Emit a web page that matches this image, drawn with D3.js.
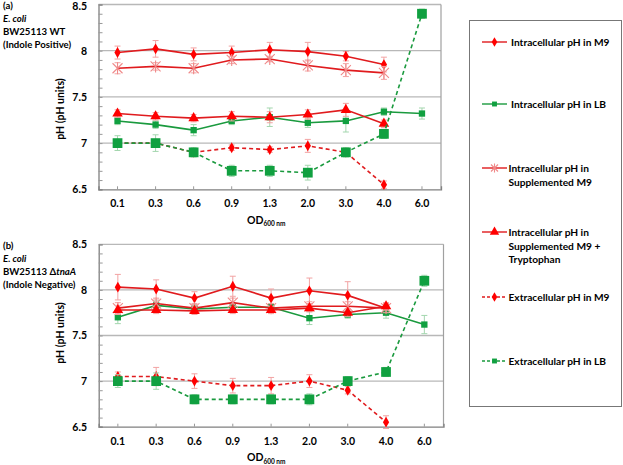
<!DOCTYPE html>
<html><head><meta charset="utf-8">
<script src="https://cdn.jsdelivr.net/npm/d3@7"></script>
<style>body{margin:0;background:#fff}svg{display:block}text{font-family:Lato,"Open Sans",sans-serif;font-weight:bold}</style>
</head><body>
<script>
const categories = ["0.1","0.3","0.6","0.9","1.3","2.0","3.0","4.0","6.0"];
const yTicks = [6.5,7,7.5,8,8.5];
const seriesNames = ["Intracellular pH in M9","Intracellular pH in LB","Intracellular pH in Supplemented M9","Intracellular pH in Supplemented M9 + Tryptophan","Extracellular pH in M9","Extracellular pH in LB"];
// Panel (a) WT
const aIntraM9   = [7.98,8.02,7.96,7.98,8.01,7.99,7.94,7.85];
const aIntraM9E  = [0.07,0.09,0.07,0.07,0.08,0.10,0.05,0.08];
const aIntraLB   = [7.24,7.20,7.14,7.24,7.28,7.22,7.24,7.34,7.32];
const aIntraLBE  = [0.04,0.04,0.06,0.04,0.10,0.05,0.12,0.04,0.06];
const aSuppM9    = [7.81,7.83,7.81,7.90,7.91,7.84,7.79,7.76];
const aSuppM9E   = [0.06,0.04,0.05,0.04,0.03,0.06,0.07,0.07];
const aSuppTrp   = [7.32,7.29,7.27,7.29,7.28,7.31,7.36,7.21];
const aSuppTrpE  = [0.04,0.04,0.04,0.05,0.06,0.05,0.07,0.04];
const aExtraM9   = [7.00,7.00,6.90,6.95,6.93,6.97,6.90,6.55];
const aExtraM9E  = [0.03,0.03,0.03,0.03,0.03,0.07,0.03,0.04];
const aExtraLB   = [7.00,7.00,6.90,6.70,6.70,6.68,6.90,7.10,8.40];
const aExtraLBE  = [0.08,0.09,0.05,0.06,0.06,0.08,0.05,0.05,0.05];
// Panel (b) tnaA
const bIntraM9   = [8.03,8.01,7.91,8.04,7.91,7.99,7.94,7.80];
const bIntraM9E  = [0.14,0.10,0.07,0.11,0.10,0.14,0.15,0.04];
const bIntraLB   = [7.70,7.83,7.79,7.81,7.81,7.69,7.73,7.75,7.62];
const bIntraLBE  = [0.07,0.05,0.04,0.04,0.04,0.07,0.04,0.06,0.10];
const bSuppM9    = [7.80,7.85,7.80,7.86,7.80,7.82,7.82,7.80];
const bSuppM9E   = [0.06,0.05,0.05,0.05,0.05,0.05,0.05,0.05];
const bSuppTrp   = [7.78,7.78,7.77,7.78,7.78,7.80,7.75,7.82];
const bSuppTrpE  = [0.05,0.04,0.04,0.04,0.04,0.04,0.04,0.04];
const bExtraM9   = [7.05,7.05,7.00,6.95,6.95,7.00,6.90,6.55];
const bExtraM9E  = [0.05,0.10,0.08,0.08,0.09,0.07,0.04,0.07];
const bExtraLB   = [7.00,7.00,6.80,6.80,6.80,6.80,7.00,7.10,8.10];
const bExtraLBE  = [0.07,0.09,0.05,0.05,0.05,0.06,0.05,0.05,0.06];

const RED="#e01b1e", REDM="#ff0000", REDE="#f2a3a3", GREEN="#1a9a3e", GREENM="#10a040", GREENE="#a3d6ae", PINK="#f08a8a";
const styles = [
  {line:RED, fill:REDM, err:REDE, dash:null, sym:"diamond", size:34},
  {line:GREEN, fill:GREENM, err:GREENE, dash:null, sym:"square", size:40},
  {line:RED, fill:PINK, err:REDE, dash:null, sym:"star", size:5},
  {line:RED, fill:REDM, err:REDE, dash:null, sym:"triangle", size:48},
  {line:RED, fill:REDM, err:REDE, dash:"4,3", sym:"diamond", size:34},
  {line:GREEN, fill:GREENM, err:GREENE, dash:"4,3", sym:"square", size:95}
];

const W=623,H=465;
const svg=d3.select("body").append("svg").attr("width",W).attr("height",H);

function marker(g, st, x, y){
  if(st.sym==="star"){
    const r=st.size;
    g.append("path").attr("d",`M${x-r},${y-r}L${x+r},${y+r}M${x-r},${y+r}L${x+r},${y-r}M${x},${y-r-1}L${x},${y+r+1}`)
      .attr("stroke",st.fill).attr("stroke-width",1.1).attr("fill","none");
  } else {
    const t={diamond:d3.symbolDiamond,square:d3.symbolSquare,triangle:d3.symbolTriangle}[st.sym];
    g.append("path").attr("d",d3.symbol().type(t).size(st.size)()).attr("transform",`translate(${x},${y})`).attr("fill",st.fill);
  }
}

function panel(cfg){
  const x=d3.scaleBand().domain(categories).range([cfg.x0,cfg.x1]);
  const y=d3.scaleLinear().domain([6.5,8.5]).range([cfg.yb,cfg.yt]);
  const g=svg.append("g");
  // grid
  g.selectAll(".grid").data(yTicks.slice(1)).join("line")
    .attr("x1",cfg.x0).attr("x2",cfg.x1).attr("y1",d=>y(d)).attr("y2",d=>y(d))
    .attr("stroke","#b8b8b8").attr("stroke-width",1.3);
  g.append("line").attr("x1",cfg.x1).attr("x2",cfg.x1).attr("y1",y(8.5)).attr("y2",y(6.5)).attr("stroke","#a0a0a0").attr("stroke-width",1.2);
  // y axis
  const ya=d3.axisLeft(y).tickValues(d3.range(65,86).map(v=>v/10)).tickSize(-4).tickFormat("");
  const yag=g.append("g").attr("transform",`translate(${cfg.x0},0)`).call(ya);
  yag.select(".domain").attr("stroke","#808080").attr("stroke-width",1.3);
  yag.selectAll(".tick line").attr("stroke","#999");
  g.selectAll(".ytl").data(yTicks).join("text").attr("x",87).attr("y",d=>Math.max(y(d)+3.8,10)).attr("text-anchor","end")
    .attr("font-size",10.5).attr("fill","#000").text(d=>d===7||d===8?d:d.toFixed(1));
  // x axis
  const xa=d3.axisBottom(x).tickSize(-3).tickFormat("");
  const xag=g.append("g").attr("transform",`translate(0,${cfg.yb})`).call(xa);
  xag.select(".domain").attr("stroke","#808080").attr("stroke-width",1.3);
  xag.selectAll(".tick line").attr("stroke","#999");
  g.selectAll(".xtl").data(categories).join("text").attr("x",d=>x(d)+x.bandwidth()/2).attr("y",cfg.yb+18)
    .attr("text-anchor","middle").attr("font-size",10.5).text(d=>d);
  const od=g.append("text").attr("x",247).attr("y",cfg.yb+34.5).attr("font-size",10.5);
  od.append("tspan").text("OD");
  od.append("tspan").attr("font-size",6.5).attr("dy",2.5).text("600 nm");
  g.append("text").attr("transform",`translate(64,${cfg.ytitle}) rotate(-90)`).attr("text-anchor","middle").attr("font-size",10.5).text("pH (pH units)");
  // annotation
  cfg.notes.forEach((n,i)=>{
    const t=g.append("text").attr("x",3).attr("y",cfg.yt+4.5+i*13).attr("font-size",9.6);
    n.forEach(p=>t.append("tspan").attr("font-style",p.i?"italic":"normal").text(p.t));
  });
  // series
  const cx=i=>x(categories[i])+x.bandwidth()/2;
  cfg.series.forEach((s,k)=>{
    const st=styles[k], vals=s[0], errs=s[1];
    const sg=g.append("g");
    vals.forEach((v,i)=>{
      const e=errs[i];
      sg.append("path").attr("d",`M${cx(i)},${y(v-e)}L${cx(i)},${y(v+e)}M${cx(i)-3},${y(v-e)}L${cx(i)+3},${y(v-e)}M${cx(i)-3},${y(v+e)}L${cx(i)+3},${y(v+e)}`)
        .attr("stroke",st.err).attr("stroke-width",1).attr("fill","none");
    });
    const line=d3.line().x((d,i)=>cx(i)).y(d=>y(d));
    sg.append("path").attr("d",line(vals)).attr("fill","none").attr("stroke",st.line).attr("stroke-width",1.6)
      .attr("stroke-dasharray",st.dash);
    vals.forEach((v,i)=>marker(sg,st,cx(i),y(v)));
  });
}

panel({x0:98.5,x1:441,yt:4.5,yb:189.3,ytitle:109,
  notes:[[{t:"(a)"}],[{t:"E. coli",i:1}],[{t:"BW25113 WT"}],[{t:"(Indole Positive)"}]],
  series:[[aIntraM9,aIntraM9E],[aIntraLB,aIntraLBE],[aSuppM9,aSuppM9E],[aSuppTrp,aSuppTrpE],[aExtraM9,aExtraM9E],[aExtraLB,aExtraLBE]]});
panel({x0:98.7,x1:443.5,yt:244.3,yb:426.7,ytitle:333,
  notes:[[{t:"(b)"}],[{t:"E. coli",i:1}],[{t:"BW25113 Δ"},{t:"tnaA",i:1}],[{t:"(Indole Negative)"}]],
  series:[[bIntraM9,bIntraM9E],[bIntraLB,bIntraLBE],[bSuppM9,bSuppM9E],[bSuppTrp,bSuppTrpE],[bExtraM9,bExtraM9E],[bExtraLB,bExtraLBE]]});

// legend
const lg=svg.append("g");
lg.append("rect").attr("x",469.5).attr("y",20.5).attr("width",152).attr("height",386).attr("fill","#fff").attr("stroke","#777").attr("stroke-width",1);
const legendY=[42,104,168,232,297,361];
const legendLines=[["Intracellular pH in M9"],["Intracellular pH in LB"],["Intracellular pH in","Supplemented M9"],["Intracellular pH in","Supplemented M9 +","Tryptophan"],["Extracellular pH in M9"],["Extracellular pH in LB"]];
seriesNames.forEach((n,k)=>{
  const st=styles[k], yy=legendY[k];
  lg.append("line").attr("x1",482).attr("x2",507).attr("y1",yy).attr("y2",yy).attr("stroke",st.line).attr("stroke-width",1.4).attr("stroke-dasharray",st.dash?"3,2":null);
  const sst=Object.assign({},st,{size:st.sym==="square"?24:st.sym==="star"?3.5:st.size*0.8});
  marker(lg,sst,494.5,yy);
  legendLines[k].forEach((t,j)=>lg.append("text").attr("x",k<2?511:508.5).attr("y",yy+4+j*13.5).attr("font-size",10.2).text(t));
});
</script>
</body></html>
